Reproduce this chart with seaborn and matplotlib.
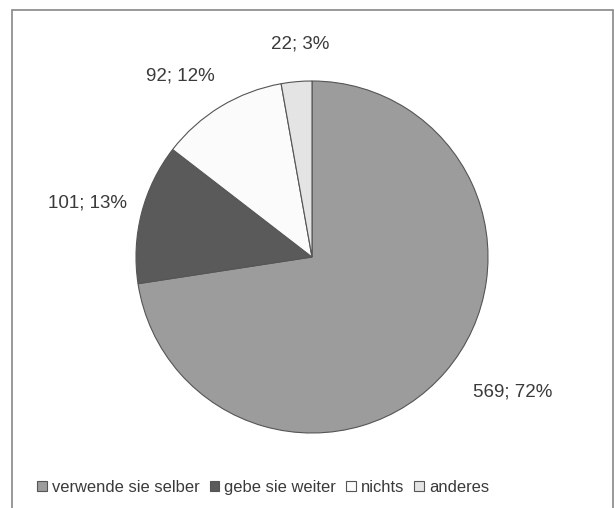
import matplotlib
matplotlib.use("Agg")
import matplotlib.pyplot as plt
import seaborn as sns
import numpy as np
from matplotlib.patches import Rectangle

categories = ["verwende sie selber", "gebe sie weiter", "nichts", "anderes"]
values = [569, 101, 92, 22]
percents = [72, 13, 12, 3]
colors = ["#9c9c9c", "#5a5a5a", "#fbfbfb", "#e4e4e4"]

sns.set_theme(style="white")
plt.rcParams['font.family'] = ['Liberation Sans', 'DejaVu Sans']

W, H = 615, 508
cx, cy, R = 312, 257, 176
fig = plt.figure(figsize=(W / 100, H / 100), dpi=100)
fig.patch.set_facecolor("white")
ax = fig.add_axes([0, 0, 1, 1])

wedges, _ = ax.pie(values, colors=colors, startangle=90, counterclock=False,
                   wedgeprops=dict(edgecolor="#555555", linewidth=0.8))
ax.set_xlim(-cx / R, (W - cx) / R)
ax.set_ylim(-(H - cy) / R, cy / R)
ax.set_aspect("equal")
ax.axis("off")

# label placement: (angle offset deg, radial factor)
label_adj = [(6.7, 1.375), (0.9, 1.31), (4.9, 1.27), (-1.8, 1.21)]
for w, v, p, (da, rf) in zip(wedges, values, percents, label_adj):
    mid = np.deg2rad((w.theta1 + w.theta2) / 2 + da)
    ax.text(rf * np.cos(mid), rf * np.sin(mid), f"{v}; {p}%",
            ha="center", va="center", fontsize=13.5, color="#3a3a3a")

leg = ax.legend(wedges, categories, loc="center", bbox_to_anchor=(0.428, 0.041),
                ncol=4, frameon=False, fontsize=11.9, handlelength=0.6,
                handleheight=0.6, handletextpad=0.3, columnspacing=0.6,
                labelcolor="#3a3a3a")

fig.patches.append(Rectangle((12 / W, -0.01), (613 - 12) / W, (H - 10) / H + 0.01,
                             transform=fig.transFigure, fill=False,
                             edgecolor="#888888", linewidth=1.2))

fig.savefig("out.png", dpi=100)
